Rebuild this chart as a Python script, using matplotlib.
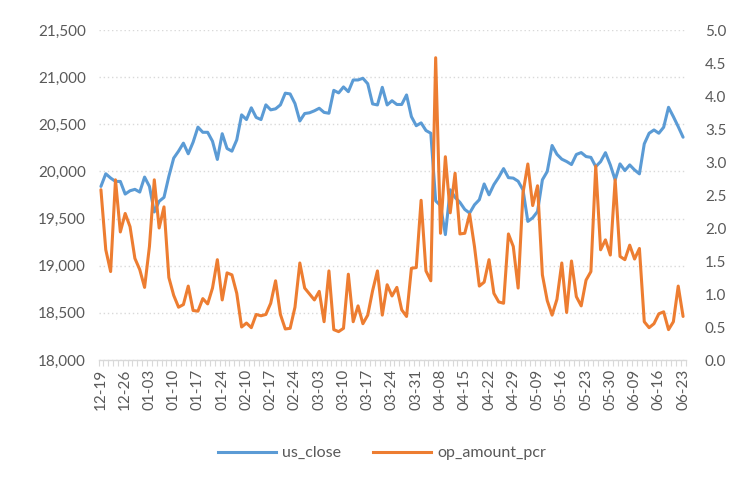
import matplotlib
matplotlib.use("Agg")
import matplotlib.pyplot as plt
from matplotlib.lines import Line2D

dates = [
    "12-19", "12-20", "12-23", "12-24", "12-25", "12-26", "12-27", "12-30", "12-31",
    "01-02", "01-03", "01-06", "01-07", "01-08", "01-09", "01-10", "01-13", "01-14",
    "01-15", "01-16", "01-17", "01-20", "01-21", "01-22", "01-23", "01-24", "01-27",
    "02-05", "02-06", "02-07", "02-10", "02-11", "02-12", "02-13", "02-14", "02-17",
    "02-18", "02-19", "02-20", "02-21", "02-24", "02-25", "02-26", "02-27", "02-28",
    "03-03", "03-04", "03-05", "03-06", "03-07", "03-10", "03-11", "03-12", "03-13",
    "03-14", "03-17", "03-18", "03-19", "03-20", "03-21", "03-24", "03-25", "03-26",
    "03-27", "03-28", "03-31", "04-01", "04-02", "04-03", "04-07", "04-08", "04-09",
    "04-10", "04-11", "04-14", "04-15", "04-16", "04-17", "04-18", "04-21", "04-22",
    "04-23", "04-24", "04-25", "04-28", "04-29", "04-30", "05-06", "05-07", "05-08",
    "05-09", "05-12", "05-13", "05-14", "05-15", "05-16", "05-19", "05-20", "05-21",
    "05-22", "05-23", "05-26", "05-27", "05-28", "05-29", "05-30", "06-03", "06-04",
    "06-05", "06-06", "06-09", "06-10", "06-11", "06-12", "06-13", "06-16", "06-17",
    "06-18", "06-19", "06-20", "06-23",
]

us_close = [
    19841, 19975, 19930, 19894, 19894, 19760, 19795, 19810, 19781, 19940,
    19841, 19570, 19683, 19725, 19947, 20141, 20215, 20300, 20187, 20310,
    20470, 20415, 20415, 20320, 20127, 20400, 20243, 20215, 20335, 20600,
    20550, 20675, 20573, 20550, 20706, 20653, 20664, 20706, 20830, 20822,
    20720, 20535, 20614, 20622, 20643, 20670, 20626, 20617, 20860, 20833,
    20896, 20846, 20970, 20970, 20988, 20930, 20716, 20705, 20892, 20705,
    20750, 20710, 20710, 20811, 20581, 20485, 20515, 20434, 20405, 19688,
    19638, 19330, 19805, 19725, 19672, 19597, 19558, 19646, 19700, 19867,
    19752, 19860, 19938, 20030, 19934, 19929, 19896, 19805, 19470, 19508,
    19575, 19911, 19999, 20275, 20182, 20130, 20105, 20073, 20180, 20200,
    20158, 20149, 20051, 20104, 20199, 20069, 19910, 20080, 20009, 20069,
    20016, 19974, 20292, 20405, 20440, 20405, 20469, 20680, 20581, 20475,
    20363,
]

op_amount_pcr = [
    2.58, 1.67, 1.34, 2.73, 1.94, 2.22, 2.02, 1.54, 1.37, 1.10,
    1.72, 2.73, 2.00, 2.32, 1.25, 0.98, 0.80, 0.84, 1.12, 0.75,
    0.74, 0.93, 0.85, 1.09, 1.52, 0.91, 1.32, 1.29, 1.01, 0.50,
    0.56, 0.49, 0.69, 0.67, 0.69, 0.86, 1.20, 0.69, 0.47, 0.48,
    0.80, 1.47, 1.09, 1.00, 0.91, 1.04, 0.58, 1.35, 0.46, 0.43,
    0.48, 1.30, 0.58, 0.82, 0.55, 0.68, 1.05, 1.35, 0.68, 1.14,
    0.97, 1.10, 0.76, 0.66, 1.39, 1.40, 2.42, 1.35, 1.20, 4.58,
    1.92, 3.08, 2.23, 2.83, 1.91, 1.92, 2.21, 1.72, 1.12, 1.18,
    1.52, 1.01, 0.88, 0.86, 1.91, 1.72, 1.09, 2.53, 2.97, 2.34,
    2.64, 1.29, 0.90, 0.68, 0.92, 1.47, 0.72, 1.50, 0.96, 0.82,
    1.21, 1.34, 2.94, 1.67, 1.82, 1.59, 2.73, 1.57, 1.52, 1.74,
    1.53, 1.69, 0.58, 0.49, 0.55, 0.70, 0.73, 0.46, 0.58, 1.12,
    0.66,
]

left_ticks = [18000, 18500, 19000, 19500, 20000, 20500, 21000, 21500]
right_ticks = [0.0, 0.5, 1.0, 1.5, 2.0, 2.5, 3.0, 3.5, 4.0, 4.5, 5.0]

BLUE = "#5B9BD5"
ORANGE = "#ED7D31"
TXT = "#595959"
GRID = "#D9D9D9"

plt.rcParams["font.family"] = ["Lato", "DejaVu Sans"]

W, H = 754, 491
fig = plt.figure(figsize=(W / 100, H / 100), dpi=100)
fig.patch.set_facecolor("white")
ax = fig.add_axes([98.5 / W, (H - 360) / H, (685.5 - 98.5) / W, 330 / H])
ax2 = ax.twinx()

x = list(range(len(dates)))
ax.plot(x, us_close, color=BLUE, lw=2.2, solid_joinstyle="round", solid_capstyle="round", zorder=3)
ax2.plot(x, op_amount_pcr, color=ORANGE, lw=2.2, solid_joinstyle="round", solid_capstyle="round", zorder=3)

ax.set_xlim(-0.5, len(dates) - 0.5)
ax.set_ylim(18000, 21500)
ax2.set_ylim(0, 5)

ax.set_yticks(left_ticks)
ax.set_yticklabels([f"{v:,}" for v in left_ticks])
ax2.set_yticks(right_ticks)
ax2.set_yticklabels([f"{v:.1f}" for v in right_ticks])

ax.grid(axis="y", color=GRID, lw=1.0, ls=(0, (1, 2)))
ax.set_axisbelow(True)

ax.set_xticks(x[::5])
ax.set_xticklabels(dates[::5], rotation=90)
ax.set_xticks([i - 0.5 for i in range(len(dates) + 1)], minor=True)

for a in (ax, ax2):
    for s in a.spines.values():
        s.set_visible(False)
ax.spines["bottom"].set_visible(True)
ax.spines["bottom"].set_color(GRID)
ax.spines["bottom"].set_linewidth(1.0)

ax.tick_params(axis="x", which="major", length=0, pad=6, labelsize=11, labelcolor=TXT)
ax.tick_params(axis="x", which="minor", length=4, width=0.8, color=GRID, direction="out")
ax.tick_params(axis="y", length=0, pad=9, labelsize=11, labelcolor=TXT)
ax2.tick_params(axis="y", length=0, pad=14, labelsize=11, labelcolor=TXT)

handles = [Line2D([], [], color=BLUE, lw=2.2), Line2D([], [], color=ORANGE, lw=2.2)]
fig.legend(handles, ["us_close", "op_amount_pcr"], loc="center",
           bbox_to_anchor=(382 / W, 1 - 453 / H), ncol=2, frameon=False,
           fontsize=11.5, labelcolor=TXT, handlelength=3.6, handletextpad=0.4,
           columnspacing=2.0)

fig.savefig("out.png", dpi=100, facecolor="white")
